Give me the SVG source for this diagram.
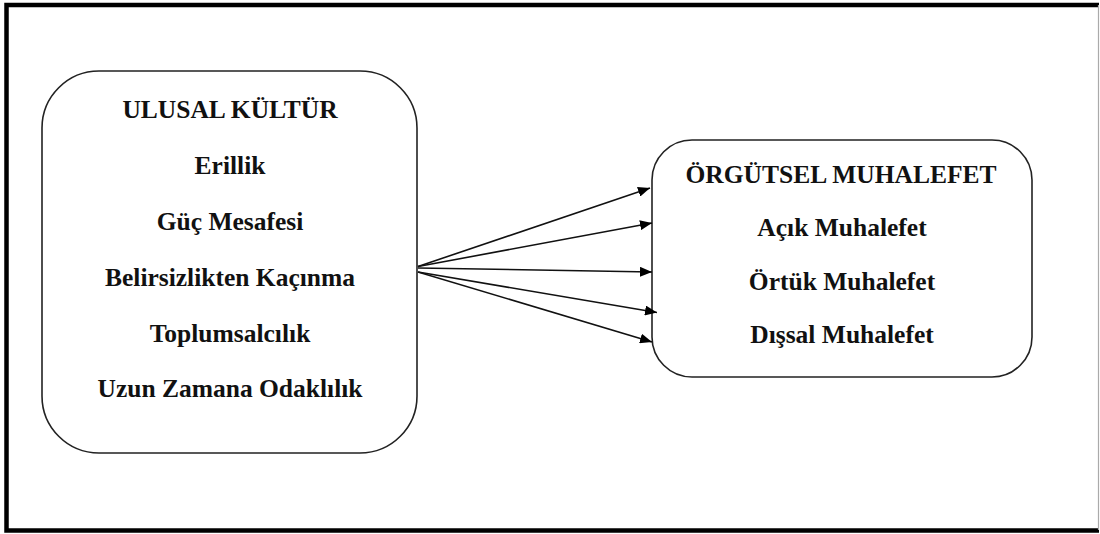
<svg xmlns="http://www.w3.org/2000/svg" width="1100" height="534" viewBox="0 0 1100 534">
<style>
  .frame{fill:none;stroke:#000;stroke-width:4.5}
  .box{fill:#fff;stroke:#222;stroke-width:1.6}
  .t{font-family:"Liberation Serif","Times New Roman",serif;font-weight:bold;font-size:25.5px;fill:#111;text-anchor:middle}
  .c{stroke:#111;stroke-width:1.6;fill:none;marker-end:url(#ah)}
</style>
<defs>
  <marker id="ah" viewBox="0 0 12 10" refX="12" refY="5" markerWidth="12" markerHeight="10" markerUnits="userSpaceOnUse" orient="auto">
    <path d="M0,0 L12,5 L0,10 Z" fill="#000"/>
  </marker>
</defs>
<rect width="1100" height="534" fill="#fff"/>
<path class="frame" d="M1099,5 L6.5,5 L6.5,530.5 L1099,530.5"/>
<line x1="1098.5" y1="5" x2="1098.5" y2="530" stroke="#aaa" stroke-width="1.2"/>
<g id="ulusal-kultur">
  <rect class="box" x="42" y="71" width="375" height="382" rx="57" ry="57"/>
  <text class="t" x="230" y="118">ULUSAL KÜLTÜR</text>
  <text class="t" x="230" y="174">Erillik</text>
  <text class="t" x="230" y="230">Güç Mesafesi</text>
  <text class="t" x="230" y="286">Belirsizlikten Kaçınma</text>
  <text class="t" x="230" y="342">Toplumsalcılık</text>
  <text class="t" x="230" y="397">Uzun Zamana Odaklılık</text>
</g>
<g id="orgutsel-muhalefet">
  <rect class="box" x="652" y="140" width="380" height="237" rx="40" ry="40"/>
  <text class="t" x="841" y="183">ÖRGÜTSEL MUHALEFET</text>
  <text class="t" x="842" y="236">Açık Muhalefet</text>
  <text class="t" x="842" y="290">Örtük Muhalefet</text>
  <text class="t" x="842" y="343">Dışsal Muhalefet</text>
</g>
<g id="connectors">
  <line class="c" x1="418" y1="266.5" x2="650" y2="188"/>
  <line class="c" x1="418" y1="266.5" x2="652" y2="223"/>
  <line class="c" x1="418" y1="268" x2="652" y2="272"/>
  <line class="c" x1="418" y1="272" x2="657" y2="312.5"/>
  <line class="c" x1="418" y1="272" x2="652" y2="342"/>
</g>
</svg>
